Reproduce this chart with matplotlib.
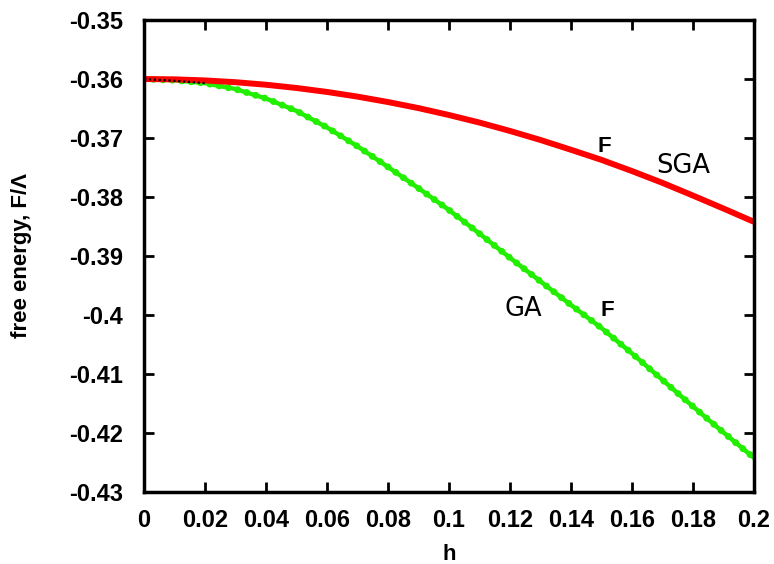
import matplotlib
matplotlib.use("Agg")
import matplotlib.pyplot as plt

# ---- data ----
h_vals = [0.00, 0.01, 0.02, 0.03, 0.04, 0.05, 0.06, 0.07, 0.08, 0.09, 0.10,
          0.11, 0.12, 0.13, 0.14, 0.15, 0.16, 0.17, 0.18, 0.19, 0.20]
sga_F = [-0.3600, -0.36006, -0.36024, -0.36054, -0.36097, -0.36152, -0.36219,
         -0.36298, -0.36390, -0.36493, -0.36610, -0.36738, -0.36880, -0.37033,
         -0.37199, -0.37370, -0.37560, -0.37760, -0.37975, -0.38195, -0.38420]
ga_F = [-0.3600, -0.3602, -0.3607, -0.3617, -0.3633, -0.3654, -0.3682,
        -0.3714, -0.3749, -0.3785, -0.3822, -0.3862, -0.3903, -0.3943,
        -0.3983, -0.4022, -0.4065, -0.4110, -0.4155, -0.4199, -0.4242]
exact_h = [0.00, 0.01, 0.02]
exact_F = [-0.3600, -0.3603, -0.3607]

xticks = [0, 0.02, 0.04, 0.06, 0.08, 0.1, 0.12, 0.14, 0.16, 0.18, 0.2]
xtick_labels = ["0", "0.02", "0.04", "0.06", "0.08", "0.1", "0.12", "0.14", "0.16", "0.18", "0.2"]
yticks = [-0.35, -0.36, -0.37, -0.38, -0.39, -0.40, -0.41, -0.42, -0.43]
ytick_labels = ["-0.35", "-0.36", "-0.37", "-0.38", "-0.39", "-0.4", "-0.41", "-0.42", "-0.43"]

# ---- figure ----
fig = plt.figure(figsize=(7.74, 5.64), dpi=100)
ax = fig.add_axes([0.186, 0.1277, 0.788, 0.8368])

# GA: beaded green line
ax.plot(h_vals, ga_F, color="#22ee00", lw=3.2, solid_capstyle="round", zorder=2)
ax.plot(h_vals, ga_F, color="#22ee00", lw=5.0, linestyle=(0, (0.01, 1.35)),
        dash_capstyle="round", zorder=2)
# hidden black dotted curve near origin
ax.plot(exact_h, exact_F, color="black", lw=1.6, linestyle=(0, (1, 1.2)), zorder=3)
# SGA: red line
ax.plot(h_vals, sga_F, color="#ff0000", lw=4.3, solid_capstyle="butt", zorder=2.5)

ax.set_xlim(0, 0.2)
ax.set_ylim(-0.43, -0.35)
ax.set_xticks(xticks)
ax.set_xticklabels(xtick_labels)
ax.set_yticks(yticks)
ax.set_yticklabels(ytick_labels)

for lab in ax.get_xticklabels() + ax.get_yticklabels():
    lab.set_fontfamily("Liberation Sans")
    lab.set_fontweight("bold")
    lab.set_fontsize(17)

ax.tick_params(direction="in", length=7, width=2, top=True, right=True,
               labeltop=False, labelright=False)
ax.tick_params(axis="x", pad=12)
ax.tick_params(axis="y", pad=15)
for sp in ax.spines.values():
    sp.set_linewidth(2.5)

ax.set_xlabel("h", fontfamily="Liberation Sans", fontweight="bold", fontsize=16, labelpad=9)
ax.set_ylabel("free energy, F/\u039b", fontfamily="Liberation Sans", fontweight="bold",
              fontsize=16, labelpad=27)

ax.text(0.151, -0.3715, "F", fontfamily="Liberation Sans", fontweight="bold",
        fontsize=16, ha="center", va="center")
ax.text(0.152, -0.3993, "F", fontfamily="Liberation Sans", fontweight="bold",
        fontsize=16, ha="center", va="center")
ax.text(0.177, -0.3747, "SGA", fontfamily="DejaVu Sans", fontsize=18.5,
        ha="center", va="center")
ax.text(0.1245, -0.3989, "GA", fontfamily="DejaVu Sans", fontsize=18.5,
        ha="center", va="center")

fig.savefig("out.png", dpi=100)
